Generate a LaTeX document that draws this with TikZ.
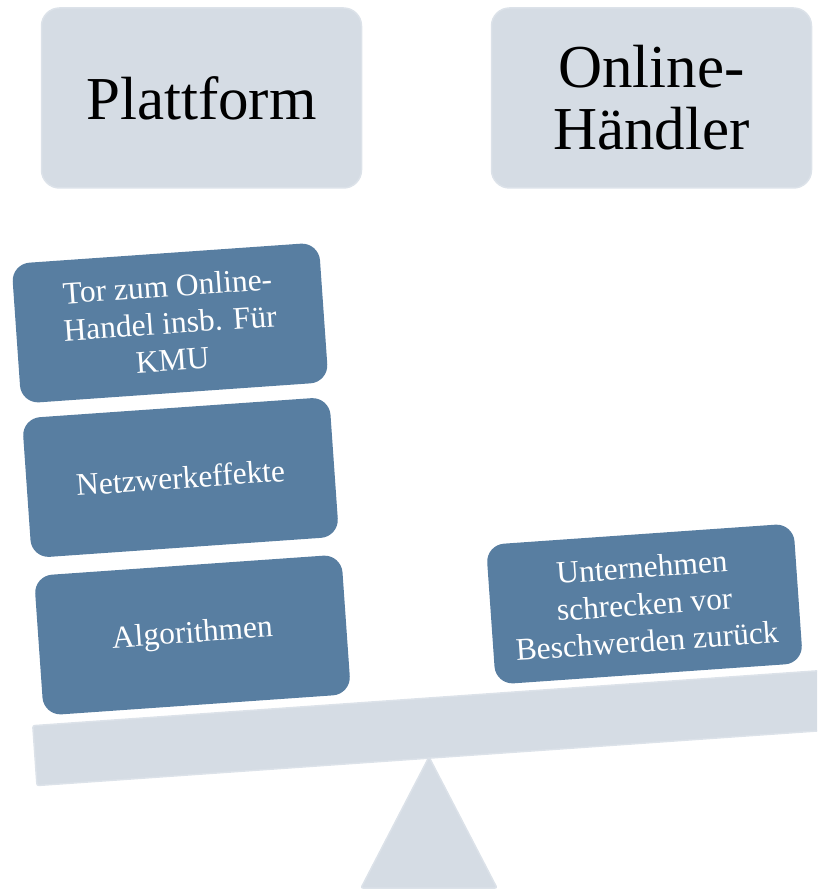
\documentclass[tikz,border=0pt]{standalone}
\usepackage{fontspec}
\setmainfont{Liberation Serif}
\definecolor{lightbox}{RGB}{213,220,228}
\definecolor{lightedge}{RGB}{220,226,233}
\definecolor{bluebox}{RGB}{88,126,161}
\tikzset{
  topbox/.style={draw=lightedge, line width=1.5pt, fill=lightbox, rounded corners=18pt,
    minimum width=320pt, minimum height=180pt, inner sep=0pt, align=center,
    font=\fontsize{61}{62}\selectfont, text=black},
  argbox/.style={fill=bluebox, rounded corners=18pt, rotate=4,
    minimum width=308pt, minimum height=140pt, inner sep=0pt, align=center,
    font=\fontsize{31.5}{37}\selectfont, text=white},
  lightshape/.style={draw=lightedge, line width=1.5pt, fill=lightbox}
}
\begin{document}
\begin{tikzpicture}[x=1pt, y=-1pt]
\useasboundingbox (0,0) rectangle (817,890);
\clip (0,0) rectangle (817,890);
% top boxes
\node[topbox] (plattform) at (201.5,98) {Plattform};
\node[topbox] (haendler) at (651.5,98) {Online-\\Händler};
% beam and fulcrum
\node[lightshape, rounded corners=2pt, rotate=4, anchor=north west,
  minimum width=840pt, minimum height=60pt, inner sep=0pt] (beam) at (32,725) {};
\draw[lightshape, rounded corners=2pt] (429,757) -- (361,888) -- (497,888) -- cycle;
% argument boxes
\node[argbox] (tor) at (170,323) {Tor zum Online-\\Handel insb. Für\\KMU};
\node[argbox] (netz) at (180.5,477.5) {Netzwerkeffekte};
\node[argbox] (algo) at (192.5,635) {Algorithmen};
\node[argbox] (untern) at (644.5,604) {Unternehmen\\schrecken vor\\Beschwerden zurück};
\end{tikzpicture}
\end{document}
